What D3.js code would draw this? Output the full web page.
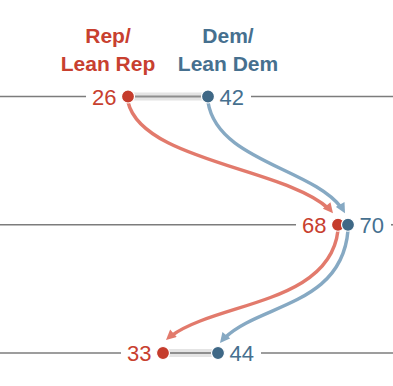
<!DOCTYPE html>
<html><head><meta charset="utf-8">
<script src="https://cdn.jsdelivr.net/npm/d3@7"></script>
<style>body{margin:0;background:#fff}svg{display:block}</style>
</head><body>
<svg id="c" width="393" height="386"></svg>
<script>
// ---- data ----
const periods = ["first", "second", "third"];
const repValues = [26, 68, 33];
const demValues = [42, 70, 44];
const seriesNames = [["Rep/", "Lean Rep"], ["Dem/", "Lean Dem"]];

// ---- styles ----
const W = 393, H = 386;
const colors = {
  repDot: "#c53c2c", demDot: "#3f6886",
  repText: "#c8402f", demText: "#46708f",
  repArrow: "#e27a6c", demArrow: "#86a9c3",
  axis: "#7c7c7c", band: "#e4e4e4", bandLine: "#8e8e8e"
};
const R = 6.5;

const svg = d3.select("#c");
const x = d3.scaleLinear().domain([26, 70]).range([128, 348]);
const y = d3.scalePoint().domain(periods).range([96.5, 353]);

const series = [
  { key: "rep", values: repValues, dot: colors.repDot, text: colors.repText, arrow: colors.repArrow, name: seriesNames[0], hx: 108 },
  { key: "dem", values: demValues, dot: colors.demDot, text: colors.demText, arrow: colors.demArrow, name: seriesNames[1], hx: 228 }
];

// header
series.forEach(s => {
  const t = svg.append("text")
    .attr("text-anchor", "middle")
    .attr("font-family", "Liberation Sans, Arial, sans-serif")
    .attr("font-weight", "bold")
    .attr("font-size", 21)
    .attr("fill", s.text);
  s.name.forEach((line, i) => {
    t.append("tspan").attr("x", s.hx).attr("y", 43 + i * 28).text(line);
  });
});

const gLines = svg.append("g");
const gArrows = svg.append("g");
const gDots = svg.append("g");
const gLabels = svg.append("g");

// markers
const defs = svg.append("defs");
series.forEach(s => {
  defs.append("marker")
    .attr("id", "arr-" + s.key)
    .attr("viewBox", "0 -5 10 10")
    .attr("refX", 10).attr("refY", 0)
    .attr("markerUnits", "userSpaceOnUse")
    .attr("markerWidth", 11).attr("markerHeight", 10)
    .attr("orient", "auto")
    .append("path").attr("d", "M0,-5L10,0L0,5Z").attr("fill", s.arrow);
});

// rows
periods.forEach((p, i) => {
  const yy = y(p);
  const xr = x(repValues[i]), xd = x(demValues[i]);
  // labels
  const lr = gLabels.append("text")
    .attr("x", xr - R - 5).attr("y", yy + 8)
    .attr("text-anchor", "end")
    .attr("font-family", "Liberation Sans, Arial, sans-serif")
    .attr("font-size", 22).attr("fill", colors.repText)
    .text(repValues[i]);
  const ld = gLabels.append("text")
    .attr("x", xd + R + 5).attr("y", yy + 8)
    .attr("text-anchor", "start")
    .attr("font-family", "Liberation Sans, Arial, sans-serif")
    .attr("font-size", 22).attr("fill", colors.demText)
    .text(demValues[i]);
  const wr = lr.node().getComputedTextLength();
  const wd = ld.node().getComputedTextLength();
  const leftEnd = xr - R - 5 - wr - 6;
  const rightStart = xd + R + 5 + wd + 7;
  gLines.append("line").attr("x1", 0).attr("x2", leftEnd).attr("y1", yy).attr("y2", yy)
    .attr("stroke", colors.axis).attr("stroke-width", 1.6);
  gLines.append("line").attr("x1", rightStart).attr("x2", W).attr("y1", yy).attr("y2", yy)
    .attr("stroke", colors.axis).attr("stroke-width", 1.6);
  if (xd - xr > 2 * R) {
    gLines.append("line").attr("x1", xr).attr("x2", xd).attr("y1", yy).attr("y2", yy)
      .attr("stroke", colors.band).attr("stroke-width", 8);
    gLines.append("line").attr("x1", xr).attr("x2", xd).attr("y1", yy).attr("y2", yy)
      .attr("stroke", colors.bandLine).attr("stroke-width", 2);
  }
  // dots
  gDots.append("circle").attr("cx", xr).attr("cy", yy).attr("r", R)
    .attr("fill", colors.repDot).attr("stroke", "#fff").attr("stroke-width", 1.2);
  gDots.append("circle").attr("cx", xd).attr("cy", yy).attr("r", R)
    .attr("fill", colors.demDot).attr("stroke", "#fff").attr("stroke-width", 1.2);
});

// arrows between consecutive rows
const shape = [
  { a: 0.07, b: 0.55, c: 0.18, d: 0.40, tip: { rep: [-5, -11.5], dem: [-3, -11.5] } },
  { a: 0.05, b: 0.70, c: 0.25, d: 0.35, tip: { rep: [3, -13], dem: [2, -10] } }
];
for (let i = 0; i < periods.length - 1; i++) {
  series.forEach(s => {
    const x0 = x(s.values[i]), y0 = y(periods[i]) + R - 1;
    const t = shape[i].tip[s.key];
    const x3 = x(s.values[i + 1]) + t[0], y3 = y(periods[i + 1]) + t[1];
    const dx = x3 - x0, dy = y3 - y0;
    const k = shape[i];
    const path = d3.path();
    path.moveTo(x0, y0);
    path.bezierCurveTo(x0 + k.a * dx, y0 + k.b * dy, x3 - k.c * dx, y3 - k.d * dy, x3, y3);
    const el = gArrows.append("path").attr("d", path.toString())
      .attr("fill", "none").attr("stroke", s.arrow).attr("stroke-width", 3.4)
      .attr("marker-end", "url(#arr-" + s.key + ")");
    const L = el.node().getTotalLength();
    el.attr("stroke-dasharray", (L - 7) + " " + L);
  });
}
</script>
</body></html>
